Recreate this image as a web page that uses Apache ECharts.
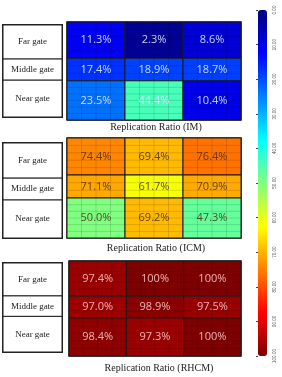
<!DOCTYPE html>
<html>
<head>
<meta charset="utf-8">
<script src="https://cdn.jsdelivr.net/npm/echarts@6.0.0/dist/echarts.min.js"></script>
<style>
html, body { margin: 0; padding: 0; background: #fff; }
#chart { width: 282px; height: 377px; }
</style>
</head>
<body>
<div id="chart"></div>
<script>
// Replication ratio (%) by gate (rows) and column, one table per scheme
const gates = ['Far gate', 'Middle gate', 'Near gate'];
const schemes = ['IM', 'ICM', 'RHCM'];
const ratioIM = [
    [11.3, 2.3, 8.6],
    [17.4, 18.9, 18.7],
    [23.5, 44.4, 10.4]
];
const ratioICM = [
    [74.4, 69.4, 76.4],
    [71.1, 61.7, 70.9],
    [50.0, 69.2, 47.3]
];
const ratioRHCM = [
    [97.4, 100, 100],
    [97.0, 98.9, 97.5],
    [98.4, 97.3, 100]
];

// jet colormap, low -> high
const JET = ['#00007f', '#0000ff', '#0080ff', '#00ffff', '#80ff80', '#ffff00', '#ff8000', '#ff0000', '#7f0000'];
// middle row is drawn narrower than the other two (fractions of panel height)
const ROW_EDGES = [0, 0.37, 0.6, 1];

const panels = [
    { data: ratioIM, map: { left: 67, top: 22, width: 174, height: 98 }, table: { left: 3, top: 25, width: 59, height: 92 }, titleY: 127, titleX: 156, text: 'rgba(215,230,255,0.9)' },
    { data: ratioICM, map: { left: 67, top: 138, width: 174, height: 100 }, table: { left: 3, top: 143, width: 59, height: 95 }, titleY: 248, titleX: 156, text: 'rgba(70,45,25,0.85)' },
    { data: ratioRHCM, map: { left: 69, top: 261, width: 172, height: 95 }, table: { left: 3, top: 263, width: 59, height: 89 }, titleY: 368, titleX: 159, text: 'rgba(245,195,195,0.9)' }
];

function fmt(v) {
    return v === 100 ? '100%' : v.toFixed(1) + '%';
}

function cellRenderer(textColor) {
    return function (params, api) {
        const c = api.value(0), r = api.value(1), v = api.value(2);
        const a = api.coord([c, ROW_EDGES[r]]);
        const b = api.coord([c + 1, ROW_EDGES[r + 1]]);
        const w = b[0] - a[0], h = b[1] - a[1];
        const children = [{
            type: 'rect',
            shape: { x: a[0], y: a[1], width: w, height: h },
            style: { fill: api.visual('color') }
        }];
        // faint mesh lines inside each cell
        for (let i = 1; i < 4; i++) {
            const x = a[0] + w * i / 4;
            children.push({ type: 'line', shape: { x1: x, y1: a[1], x2: x, y2: b[1] }, style: { stroke: 'rgba(0,0,0,0.13)', lineWidth: 1 } });
        }
        const n = Math.max(2, Math.round(h / 7));
        for (let i = 1; i < n; i++) {
            const y = a[1] + h * i / n;
            children.push({ type: 'line', shape: { x1: a[0], y1: y, x2: b[0], y2: y }, style: { stroke: 'rgba(0,0,0,0.13)', lineWidth: 1 } });
        }
        children.push({
            type: 'rect',
            shape: { x: a[0], y: a[1], width: w, height: h },
            style: { fill: 'none', stroke: '#1a1a1a', lineWidth: 1 }
        });
        children.push({
            type: 'text',
            style: {
                text: fmt(v), x: a[0] + w / 2, y: a[1] + h / 2,
                align: 'center', verticalAlign: 'middle',
                fill: textColor, font: '11px "Open Sans"'
            }
        });
        return { type: 'group', children };
    };
}

function labelRenderer(params, api) {
    const r = api.value(1);
    const a = api.coord([0, ROW_EDGES[r]]);
    const b = api.coord([1, ROW_EDGES[r + 1]]);
    return {
        type: 'group',
        children: [{
            type: 'rect',
            shape: { x: a[0], y: a[1], width: b[0] - a[0], height: b[1] - a[1] },
            style: { fill: '#fff', stroke: '#222', lineWidth: 1 }
        }, {
            type: 'text',
            style: {
                text: gates[r], x: (a[0] + b[0]) / 2, y: (a[1] + b[1]) / 2,
                align: 'center', verticalAlign: 'middle',
                fill: '#222', font: '9px "Liberation Serif"'
            }
        }]
    };
}

const grid = [], xAxis = [], yAxis = [], series = [], graphic = [];

panels.forEach((p, i) => {
    grid.push({ ...p.map, show: true, borderColor: '#1a1a1a', borderWidth: 1.5, backgroundColor: 'transparent' });
    xAxis.push({ type: 'value', gridIndex: i, min: 0, max: 3, show: false });
    yAxis.push({ type: 'value', gridIndex: i, min: 0, max: 1, inverse: true, show: false });
    series.push({
        type: 'custom',
        name: schemes[i],
        xAxisIndex: i,
        yAxisIndex: i,
        renderItem: cellRenderer(p.text),
        encode: { x: 0, y: 1 },
        data: p.data.flatMap((row, r) => row.map((v, c) => [c, r, v]))
    });
    graphic.push({
        type: 'text', x: p.titleX, y: p.titleY,
        style: {
            text: 'Replication Ratio (' + schemes[i] + ')',
            align: 'center', verticalAlign: 'middle',
            fill: '#222', font: '10px "Liberation Serif"'
        }
    });
});

panels.forEach((p, i) => {
    const g = 3 + i;
    grid.push({ ...p.table, show: true, borderColor: '#222', borderWidth: 2, backgroundColor: '#fff' });
    xAxis.push({ type: 'value', gridIndex: g, min: 0, max: 1, show: false });
    yAxis.push({ type: 'value', gridIndex: g, min: 0, max: 1, inverse: true, show: false });
    series.push({
        type: 'custom',
        xAxisIndex: g,
        yAxisIndex: g,
        renderItem: labelRenderer,
        encode: { x: 0, y: 1 },
        data: gates.map((name, r) => ({ name, value: [0, r] }))
    });
});

// colour bar scale
grid.push({ left: 258, top: 10, width: 9, height: 346 });
xAxis.push({ type: 'value', gridIndex: 6, show: false });
yAxis.push({
    type: 'value', gridIndex: 6, min: 0, max: 100, interval: 10, inverse: true,
    position: 'right', z: 10,
    axisLine: { show: false },
    splitLine: { show: false },
    axisTick: { show: true, inside: true, length: 2, lineStyle: { color: '#444' } },
    axisLabel: { rotate: 90, fontSize: 4.5, margin: 5, color: '#555', formatter: v => v.toFixed(2) }
});

const chart = echarts.init(document.getElementById('chart'));
chart.setOption({
    animation: false,
    grid,
    xAxis,
    yAxis,
    visualMap: {
        type: 'continuous',
        min: 0,
        max: 100,
        dimension: 2,
        seriesIndex: [0, 1, 2],
        inverse: true,
        orient: 'vertical',
        left: 258,
        top: 10,
        padding: 0,
        itemWidth: 9,
        itemHeight: 346,
        calculable: false,
        hoverLink: false,
        text: null,
        inRange: { color: JET }
    },
    graphic,
    series
});
</script>
</body>
</html>
